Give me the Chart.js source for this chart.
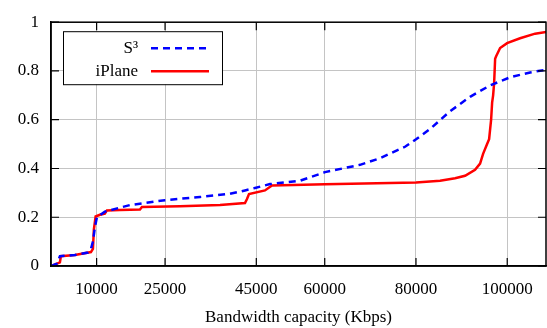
<!DOCTYPE html>
<html lang="en">
<head>
<meta charset="UTF-8">
<title>Bandwidth capacity CDF</title>
<script src="https://cdn.jsdelivr.net/npm/chart.js"></script>
<style>
  body { margin: 0; background: #fff; }
  #wrap { width: 547px; height: 328px; }
</style>
</head>
<body>
<div id="wrap"><canvas id="cdf"></canvas></div>
<script>
// x tick labels (Kbps) and y ticks
const xTicks = [10000, 25000, 45000, 60000, 80000, 100000];
const xMax = 108500;

// S^3 series (Kbps, cumulative fraction)
const s3Kbps = [0, 1290, 1730, 1950, 5240, 8090, 8750, 9190, 9630, 10070, 11800, 17300, 24980,
  32650, 39230, 42520, 44720, 48010, 54590, 60060, 67740, 72120, 77600, 80020, 83090, 87480,
  91860, 96250, 100630, 105020, 108530];
const s3Cdf = [0, 0.01, 0.03, 0.04, 0.045, 0.055, 0.07, 0.1, 0.16, 0.2, 0.223, 0.25, 0.27,
  0.283, 0.296, 0.31, 0.32, 0.336, 0.35, 0.385, 0.415, 0.442, 0.489, 0.52, 0.562, 0.635,
  0.694, 0.741, 0.774, 0.794, 0.805];

// iPlane series
const iplaneKbps = [0, 1290, 1950, 2170, 5240, 8750, 9190, 9400, 9780, 10720, 11800, 12260, 15110,
  19500, 19930, 28270, 37040, 42520, 42960, 43400, 46900, 48440, 60060, 80020, 85280, 88570,
  90760, 92950, 94050, 94710, 95590, 96030, 96470, 96690, 96910, 97130, 97350, 97570, 98440,
  99970, 102820, 106110, 108530];
const iplaneCdf = [0, 0.01, 0.015, 0.04, 0.045, 0.057, 0.07, 0.15, 0.203, 0.21, 0.215, 0.228, 0.23,
  0.232, 0.242, 0.245, 0.25, 0.258, 0.275, 0.295, 0.31, 0.33, 0.335, 0.343, 0.35, 0.36,
  0.37, 0.395, 0.42, 0.46, 0.5, 0.52, 0.6, 0.67, 0.7, 0.75, 0.85, 0.86, 0.894,
  0.914, 0.934, 0.953, 0.96];

const serif = "'Liberation Serif', 'DejaVu Serif', serif";

function pairs(xs, ys) {
  return xs.map((x, i) => ({ x: x, y: ys[i] }));
}

// frame, inward ticks and the boxed legend, gnuplot style
const framePlugin = {
  id: 'frame',
  afterDatasetsDraw(chart) {
    const ctx = chart.ctx;
    const a = chart.chartArea;
    const xs = chart.scales.x, ys = chart.scales.y;
    ctx.save();
    ctx.strokeStyle = '#000';
    ctx.lineWidth = 1.5;
    ctx.strokeRect(a.left, a.top, a.right - a.left, a.bottom - a.top);
    ctx.lineWidth = 1.2;
    ctx.beginPath();
    xTicks.forEach(v => {
      const px = xs.getPixelForValue(v);
      ctx.moveTo(px, a.bottom); ctx.lineTo(px, a.bottom - 8);
      ctx.moveTo(px, a.top); ctx.lineTo(px, a.top + 8);
    });
    ys.ticks.forEach(t => {
      const py = ys.getPixelForValue(t.value);
      ctx.moveTo(a.left, py); ctx.lineTo(a.left + 8, py);
      ctx.moveTo(a.right, py); ctx.lineTo(a.right - 8, py);
    });
    ctx.stroke();

    // legend
    const bx = a.left + 12, by = a.top + 9, bw = 159, bh = 53;
    ctx.fillStyle = '#fff';
    ctx.fillRect(bx, by, bw, bh);
    ctx.lineWidth = 1;
    ctx.strokeRect(bx + 0.5, by + 0.5, bw, bh);
    ctx.font = '17px ' + serif;
    ctx.textAlign = 'right';
    ctx.textBaseline = 'middle';
    chart.data.datasets.forEach((ds, i) => {
      const ly = by + 17 + i * 23;
      ctx.fillStyle = '#000';
      ctx.fillText(ds.label, bx + 75, ly);
      ctx.strokeStyle = ds.borderColor;
      ctx.lineWidth = ds.borderWidth;
      ctx.setLineDash(ds.borderDash || []);
      ctx.beginPath();
      ctx.moveTo(bx + 88, ly);
      ctx.lineTo(bx + 146, ly);
      ctx.stroke();
      ctx.setLineDash([]);
    });
    ctx.restore();
  }
};

new Chart(document.getElementById('cdf'), {
  type: 'line',
  data: {
    datasets: [
      {
        label: 'S³',
        data: pairs(s3Kbps, s3Cdf),
        borderColor: '#0000ff',
        borderWidth: 2.5,
        borderDash: [7, 5],
        pointRadius: 0,
        tension: 0,
        order: 1
      },
      {
        label: 'iPlane',
        data: pairs(iplaneKbps, iplaneCdf),
        borderColor: '#ff0000',
        borderWidth: 2.5,
        pointRadius: 0,
        tension: 0,
        order: 2
      }
    ]
  },
  options: {
    responsive: true,
    maintainAspectRatio: false,
    animation: false,
    layout: { padding: { top: 15, right: 1, left: 0, bottom: 0 } },
    plugins: { legend: { display: false }, tooltip: { enabled: false } },
    scales: {
      x: {
        type: 'linear',
        min: 0,
        max: xMax,
        afterBuildTicks: scale => { scale.ticks = xTicks.map(v => ({ value: v })); },
        afterFit: scale => { scale.height = 62; },
        grid: { color: '#c4c4c4', lineWidth: 1, drawTicks: false },
        border: { color: '#000', width: 1.5 },
        ticks: {
          color: '#000',
          padding: 13,
          maxRotation: 0,
          font: { family: serif, size: 17 },
          callback: v => String(v)
        },
        title: {
          display: true,
          text: 'Bandwidth capacity (Kbps)',
          color: '#000',
          font: { family: serif, size: 17 },
          padding: { top: 2, bottom: 0 }
        }
      },
      y: {
        min: 0,
        max: 1,
        ticks: {
          stepSize: 0.2,
          color: '#000',
          padding: 12,
          font: { family: serif, size: 17 },
          callback: v => String(Math.round(v * 10) / 10)
        },
        afterFit: scale => { scale.width = 51; },
        grid: { color: '#c4c4c4', lineWidth: 1, drawTicks: false },
        border: { color: '#000', width: 1.5 }
      }
    }
  },
  plugins: [framePlugin]
});
</script>
</body>
</html>
